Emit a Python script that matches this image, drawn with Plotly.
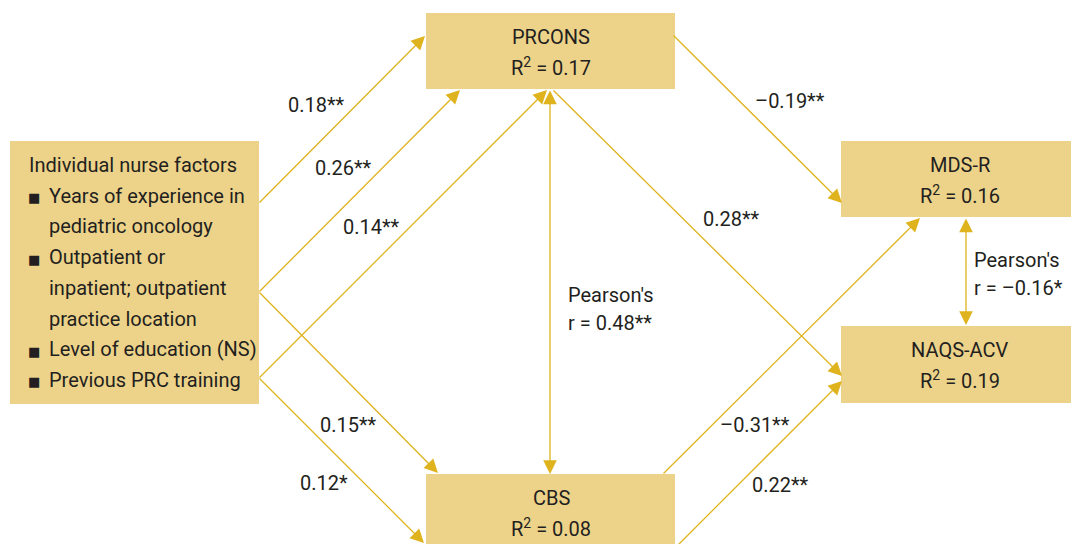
import plotly.graph_objects as go

# ---------------- data ----------------
node_names = ["PRCONS", "MDS-R", "NAQS-ACV", "CBS"]
node_r2 = ["0.17", "0.16", "0.19", "0.08"]

factor_title = "Individual nurse factors"
factor_items = [
    ["Years of experience in", "pediatric oncology"],
    ["Outpatient or", "inpatient; outpatient", "practice location"],
    ["Level of education (NS)"],
    ["Previous PRC training"],
]

path_labels = ["0.18**", "0.26**", "0.14**", "0.15**", "0.12*",
               "–0.19**", "0.28**", "–0.31**", "0.22**"]
corr_labels = ["r = 0.48**", "r = –0.16*"]
corr_title = "Pearson's"

# ---------------- layout / geometry ----------------
FONT = "Liberation Sans Narrow, Roboto, Arial, sans-serif"
TXT = "#231F20"
BOX = "#EDD38A"
ARR = "#DFB31E"

W, H = 1079, 544
OFF = 8  # page body margin compensation

# boxes: x0, y0, x1, y1
left_box = (10, 141, 259, 404)
node_boxes = {
    "PRCONS": (426, 13, 675, 89),
    "MDS-R": (841, 141, 1090, 217),
    "NAQS-ACV": (841, 326, 1090, 403),
    "CBS": (426, 474, 675, 570),
}
node_centers = {"PRCONS": 551, "MDS-R": 960, "NAQS-ACV": 960, "CBS": 551}

# arrows: (tail x, tail y, head x, head y)
path_arrows = [
    (259, 203, 425, 36),
    (259, 292, 460, 90),
    (259, 378, 547, 90),
    (259, 292, 438, 473),
    (259, 378, 424, 543),
    (673, 35, 842, 203),
    (553, 90, 842, 376),
    (663, 474, 920, 218),
    (677, 546, 842, 381),
]
label_pos = [(316, 105), (343, 168), (371, 227), (348, 425), (324, 483),
             (790, 101), (731, 219), (755, 425), (780, 485)]

corr_arrows = [(550, 90, 550, 474), (966, 218, 966, 325)]
corr_text_pos = [(566, 295), (972, 260)]

fig = go.Figure()
fig.add_trace(go.Scatter(x=[OFF, W], y=[OFF, H], mode="markers",
                         marker=dict(opacity=0), hoverinfo="skip", showlegend=False))

shapes = []
annotations = []

def box(b):
    shapes.append(dict(type="rect", xref="x", yref="y", x0=b[0], y0=b[1], x1=b[2], y1=b[3],
                       fillcolor=BOX, line=dict(width=0), layer="below"))

box(left_box)
for name in node_names:
    box(node_boxes[name])

# node text
for name, r2 in zip(node_names, node_r2):
    cx = node_centers[name]
    cy = node_boxes[name][1] + 24
    annotations.append(dict(x=cx, y=cy, xref="x", yref="y", text=name, showarrow=False,
                            font=dict(family=FONT, size=20, color=TXT)))
    annotations.append(dict(x=cx, y=cy + 30, xref="x", yref="y",
                            text="R<sup>2</sup> = " + r2, showarrow=False,
                            font=dict(family=FONT, size=20, color=TXT)))

# left box text
lx, ly, step = 27, 165, 30.7
annotations.append(dict(x=lx, y=ly, xref="x", yref="y", text=factor_title, showarrow=False,
                        xanchor="left", font=dict(family=FONT, size=20, color=TXT)))
row = 1
for item in factor_items:
    annotations.append(dict(x=lx - 1, y=ly + row * step + 2, xref="x", yref="y", text="■",
                            showarrow=False, xanchor="left",
                            font=dict(family="DejaVu Sans", size=13, color=TXT)))
    for line in item:
        annotations.append(dict(x=47, y=ly + row * step, xref="x", yref="y", text=line,
                                showarrow=False, xanchor="left",
                                font=dict(family=FONT, size=20, color=TXT)))
        row += 1

# path arrows
def arrow(a, both=False):
    d = dict(x=a[2], y=a[3], ax=a[0], ay=a[1], xref="x", yref="y", axref="x", ayref="y",
             text="", showarrow=True, arrowhead=2, arrowsize=2.1, arrowwidth=1.3,
             arrowcolor=ARR, standoff=0, startstandoff=0, borderpad=0)
    if both:
        d.update(arrowside="end+start", startarrowhead=2, startarrowsize=2.1)
    annotations.append(d)

for a in path_arrows:
    arrow(a)
for a in corr_arrows:
    arrow(a, both=True)

for lab, (x, y) in zip(path_labels, label_pos):
    annotations.append(dict(x=x, y=y, xref="x", yref="y", text=lab, showarrow=False,
                            font=dict(family=FONT, size=20, color=TXT)))

for lab, (x, y) in zip(corr_labels, corr_text_pos):
    annotations.append(dict(x=x, y=y, xref="x", yref="y", text=corr_title, showarrow=False,
                            xanchor="left", font=dict(family=FONT, size=20, color=TXT)))
    annotations.append(dict(x=x, y=y + 28, xref="x", yref="y", text=lab, showarrow=False,
                            xanchor="left", font=dict(family=FONT, size=20, color=TXT)))

fig.update_layout(
    width=W, height=H, margin=dict(l=0, r=0, t=0, b=0),
    paper_bgcolor="white", plot_bgcolor="white",
    xaxis=dict(range=[OFF, W + OFF], visible=False, fixedrange=True),
    yaxis=dict(range=[H + OFF, OFF], visible=False, fixedrange=True),
    shapes=shapes, annotations=annotations, showlegend=False,
)
fig.write_html("out.html")
